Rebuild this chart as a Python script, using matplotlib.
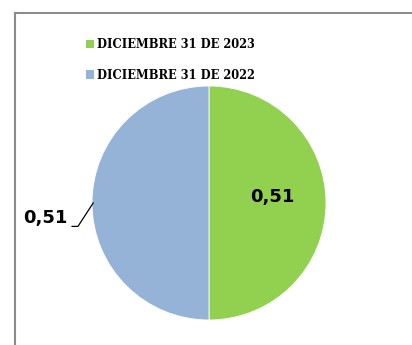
import matplotlib.pyplot as plt
from matplotlib.patches import Patch
from matplotlib.lines import Line2D

labels = ['DICIEMBRE 31 DE 2023', 'DICIEMBRE 31 DE 2022']
values = [0.51, 0.51]
colors = ['#92D050', '#95B3D7']

fig = plt.figure(figsize=(4.12, 3.45), dpi=100)

# outer chart frame (cut off at right and bottom)
fig.add_artist(Line2D([15/412, 15/412], [0, 1 - 13/345], transform=fig.transFigure,
                      color='#8c8c8c', lw=1.5))
fig.add_artist(Line2D([15/412, 1], [1 - 13/345, 1 - 13/345], transform=fig.transFigure,
                      color='#8c8c8c', lw=1.5))

ax = fig.add_axes([(209 - 117)/412, 1 - (203 + 117)/345, 234/412, 234/345])
wedges, _ = ax.pie(values, colors=colors, startangle=90, counterclock=False,
                   radius=1, wedgeprops=dict(edgecolor='white', linewidth=0.6))
ax.set_xlim(-1, 1)
ax.set_ylim(-1, 1)
ax.set_aspect('auto')
ax.axis('off')

fmt = lambda v: ('%.2f' % v).replace('.', ',')
ax.text(0.54, 0.05, fmt(values[0]), ha='center', va='center',
        fontsize=13, fontweight='bold', color='black')
ax.text(-1.40, -0.13, fmt(values[1]), ha='center', va='center',
        fontsize=13, fontweight='bold', color='black')
ax.plot([-1.17, -1.12, -0.99], [-0.20, -0.20, 0.0], color='black', lw=0.9,
        clip_on=False)

handles = [Patch(facecolor=c, edgecolor='none') for c in colors]
fig.legend(handles, labels, loc='upper left', bbox_to_anchor=(80/412, 1 - 32/345),
           frameon=False, handlelength=0.75, handleheight=0.75, handletextpad=0.25,
           labelspacing=1.55, borderpad=0,
           prop={'family': 'DejaVu Serif', 'weight': 'bold', 'size': 8.3})

fig.savefig('out.png', dpi=100)
